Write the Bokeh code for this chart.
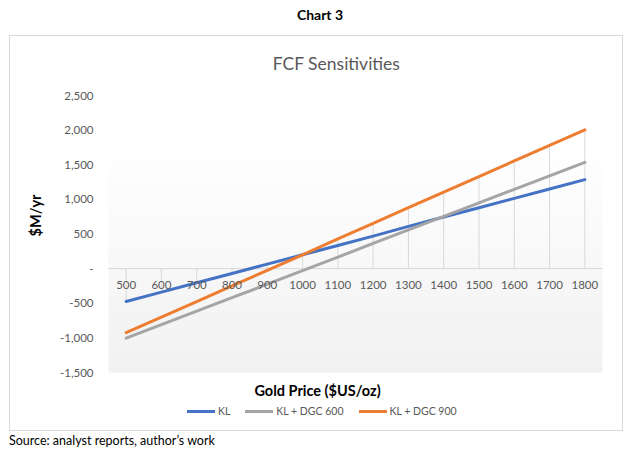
from bokeh.plotting import figure
from bokeh.models import (Range1d, Label, Legend, LegendItem, BoxAnnotation,
                          Div, ColumnDataSource)
from bokeh.layouts import column
from bokeh.embed import file_html
from bokeh.resources import INLINE
from bokeh.core.properties import value
import math

# data ($M/yr vs gold price in $US/oz)
gold_price = [500, 600, 700, 800, 900, 1000, 1100, 1200, 1300, 1400, 1500, 1600, 1700, 1800]
kl = [-475, -340, -205, -70, 65, 200, 335, 470, 610, 745, 880, 1015, 1150, 1285]
kl_dgc600 = [-1005, -810, -615, -420, -225, -30, 165, 365, 560, 755, 950, 1145, 1340, 1535]
kl_dgc900 = [-925, -700, -475, -250, -25, 200, 430, 655, 880, 1105, 1330, 1555, 1780, 2005]
y_ticks = [-1500, -1000, -500, 0, 500, 1000, 1500, 2000, 2500]
y_tick_labels = ["-1,500", "-1,000", "-500", "-", "500", "1,000", "1,500", "2,000", "2,500"]

FONT = "Lato"
GREY_TXT = "#595959"
GRID = "#d9d9d9"

# page pixel layout of the chart box and of its plot area
BOX_L, BOX_T, BOX_R, BOX_B = 10, 36, 622, 430
PA_L, PA_R, PA_T, PA_B = 108, 602, 95, 372
step = gold_price[1] - gold_price[0]
X_LO, X_HI = gold_price[0] - step / 2, gold_price[-1] + step / 2
Y0, Y1 = y_ticks[0], y_ticks[-1]


def data_x(px):
    return X_LO + (px - PA_L) * (X_HI - X_LO) / (PA_R - PA_L)


def data_y(py):
    return Y1 - (py - PA_T) * (Y1 - Y0) / (PA_B - PA_T)


src = ColumnDataSource(dict(
    gold=gold_price, kl=kl, g600=kl_dgc600, g900=kl_dgc900,
    label=[str(g) for g in gold_price],
    zero=[0] * len(gold_price),
    top=[max(a, b, c) for a, b, c in zip(kl, kl_dgc600, kl_dgc900)],
))

p = figure(width=BOX_R - BOX_L, height=BOX_B - BOX_T,
           x_range=Range1d(data_x(BOX_L), data_x(BOX_R)),
           y_range=Range1d(data_y(BOX_B), data_y(BOX_T)),
           x_axis_location=None, y_axis_location=None,
           output_backend="svg", toolbar_location=None,
           min_border=0, margin=(0, 0, 0, BOX_L),
           styles={"outline": "1px solid #d9d9d9"})
p.outline_line_color = None
p.grid.visible = False

# plot area gradient (white -> light grey)
n_bands = 30
g_top = data_y(143)
for i in range(n_bands):
    t = g_top - i * (g_top - Y0) / n_bands
    b = g_top - (i + 1) * (g_top - Y0) / n_bands
    c = int(round(255 - 14 * (i + 0.5) / n_bands))
    p.add_layout(BoxAnnotation(left=X_LO, right=X_HI, top=t + 3, bottom=b,
                               fill_color=(c, c, c), fill_alpha=1,
                               line_color=None, level="underlay"))

# horizontal axis line at zero
p.segment(x0=[X_LO], y0=[0], x1=[X_HI], y1=[0], line_color=GRID, line_width=1)

# drop lines
p.segment(x0="gold", y0="zero", x1="gold", y1="top", source=src,
          line_color=GRID, line_width=1)

r_kl = p.line("gold", "kl", source=src, line_color="#4472C4", line_width=3,
              line_cap="round", line_join="round")
r_600 = p.line("gold", "g600", source=src, line_color="#A5A5A5", line_width=3,
               line_cap="round", line_join="round")
r_900 = p.line("gold", "g900", source=src, line_color="#ED7D31", line_width=3,
               line_cap="round", line_join="round")

# category labels sit just under the zero line
p.text(x="gold", y="zero", text="label", source=src, y_offset=16,
       text_align="center", text_baseline="middle",
       text_font=value(FONT), text_font_size="11.5px", text_color=GREY_TXT)

# value axis labels
p.text(x=[data_x(93)] * len(y_ticks), y=y_ticks, text=y_tick_labels,
       text_align="right", text_baseline="middle",
       text_font=value(FONT), text_font_size="11.5px", text_color=GREY_TXT)

p.add_layout(Label(x=data_x(336), y=data_y(63), text="FCF Sensitivities",
                   text_align="center", text_baseline="middle",
                   text_font=FONT, text_font_size="17.5px", text_color=GREY_TXT))
p.add_layout(Label(x=data_x(35), y=data_y(215), text="$M/yr", angle=math.pi / 2,
                   text_align="center", text_baseline="middle",
                   text_font=FONT, text_font_size="14.5px", text_font_style="bold",
                   text_color="#000000"))
p.add_layout(Label(x=data_x(317), y=data_y(390), text="Gold Price ($US/oz)",
                   text_align="center", text_baseline="middle",
                   text_font=FONT, text_font_size="14.5px", text_font_style="bold",
                   text_color="#000000"))

legend = Legend(items=[LegendItem(label="KL", renderers=[r_kl]),
                       LegendItem(label="KL + DGC 600", renderers=[r_600]),
                       LegendItem(label="KL + DGC 900", renderers=[r_900])],
                orientation="horizontal", location=(187 - BOX_L, BOX_B - 417),
                glyph_width=28, glyph_height=12, label_height=12, label_width=0,
                label_standoff=3, spacing=15, padding=0, margin=0,
                border_line_color=None, background_fill_alpha=0,
                label_text_font=FONT, label_text_font_size="10.5px",
                label_text_color=GREY_TXT)
p.add_layout(legend)

head = Div(text="Chart 3", width=640, height=BOX_T - 7, margin=(7, 0, 0, 0),
           styles={"text-align": "center", "font-family": FONT, "font-weight": "bold",
                   "font-size": "14px", "line-height": "16px", "color": "#000000"})
note = Div(text="Source: analyst reports, author\u2019s work", width=600, height=20,
           margin=(2, 0, 0, 9),
           styles={"font-family": FONT, "font-size": "12.5px", "line-height": "17px",
                   "color": "#000000"})

page = column(head, p, note, spacing=0)
open("out.html", "w").write(file_html(page, INLINE))
